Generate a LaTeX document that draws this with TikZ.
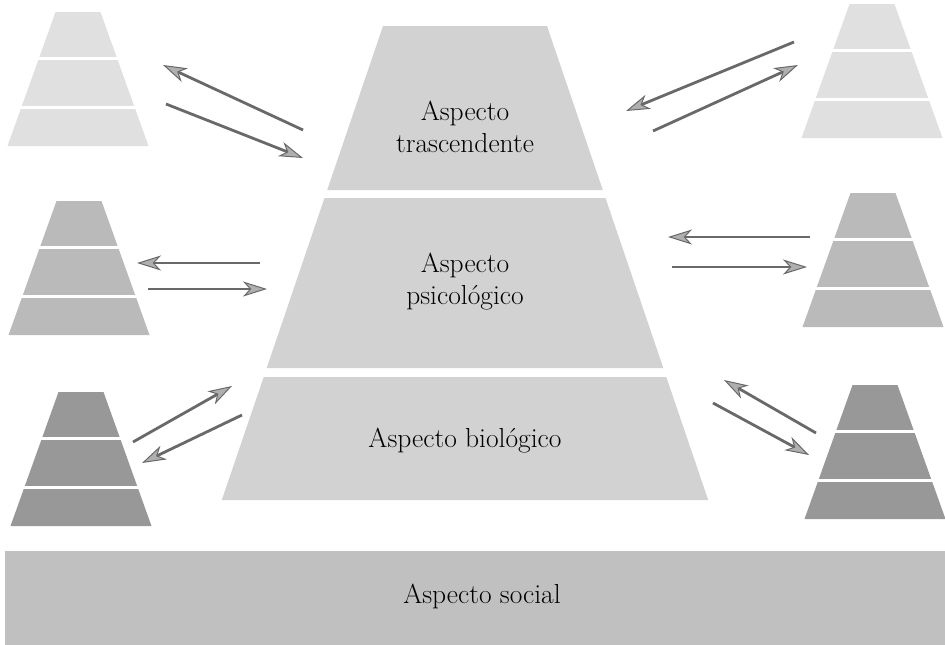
\documentclass[tikz,border=0pt]{standalone}
\usepackage{tikz}
\usetikzlibrary{arrows.meta,positioning}
\definecolor{tiergray}{RGB}{210,210,210}
\definecolor{socialgray}{RGB}{192,192,192}
\definecolor{palegray}{RGB}{224,224,224}
\definecolor{midgray}{RGB}{186,186,186}
\definecolor{deepgray}{RGB}{152,152,152}
\definecolor{arrowgray}{RGB}{105,105,105}
\definecolor{headgray}{RGB}{175,175,175}

\begin{document}
\begin{tikzpicture}[x=1pt, y=-1pt, >={Stealth[length=24pt,width=15pt,inset=7pt,line width=1pt,fill=headgray]},
  tier/.style={fill=tiergray},
  tiertext/.style={font={\fontsize{27.5}{32}\selectfont}, align=center, inner sep=0pt},
  link/.style={->, draw=arrowgray, line width=2.8pt},
  divider/.style={draw=white, line width=3pt}]
        \useasboundingbox (0,0) rectangle (945,645);

        % central pyramid
        \fill[tier] (383,26) -- (547,26) -- (602.8,190) -- (327.2,190) -- cycle;
        \fill[tier] (324.5,198) -- (605.5,198) -- (663.3,368) -- (266.7,368) -- cycle;
        \fill[tier] (263.7,377) -- (666.3,377) -- (708.2,500) -- (221.8,500) -- cycle;
        \fill[socialgray] (5,551) rectangle (945,645);

        \node[tiertext] (trasc)  at (465,127) {Aspecto\\trascendente};
        \node[tiertext] (psico)  at (465,282) {Aspecto\\psicológico};
        \node[tiertext] (bio)    at (465,441) {Aspecto biológico};
        \node[tiertext] (social) at (482,596) {Aspecto social};

        % small pyramids
        \foreach \cx/\ty/\tone in {78/12/palegray, 872/4/palegray, 79/201/midgray,
                                   873/193/midgray, 81/392/deepgray, 875/385/deepgray}{
            \fill[\tone] (\cx-22.5,\ty) -- (\cx+22.5,\ty) -- (\cx+70.5,\ty+134) -- (\cx-70.5,\ty+134) -- cycle;
            \draw[divider] (\cx-41,\ty+46) -- (\cx+41,\ty+46) (\cx-58,\ty+95) -- (\cx+58,\ty+95);
        }

        \coordinate (tl_1) at (303,130); \coordinate (tl_2) at (163,65);
        \coordinate (tl_3) at (166,104); \coordinate (tl_4) at (303,158);
        \coordinate (tr_1) at (794,42);  \coordinate (tr_2) at (626,111);
        \coordinate (tr_3) at (653,131); \coordinate (tr_4) at (798,65);
        \coordinate (ml_1) at (260,263); \coordinate (ml_2) at (137,263);
        \coordinate (ml_3) at (148,289); \coordinate (ml_4) at (267,289);
        \coordinate (mr_1) at (810,237); \coordinate (mr_2) at (668,237);
        \coordinate (mr_3) at (672,267); \coordinate (mr_4) at (807,267);
        \coordinate (bl_1) at (133,442); \coordinate (bl_2) at (232,386);
        \coordinate (bl_3) at (242,415); \coordinate (bl_4) at (142,463);
        \coordinate (br_1) at (816,433); \coordinate (br_2) at (724,380);
        \coordinate (br_3) at (713,403); \coordinate (br_4) at (809,455);

        \path (tl_1) edge[link] (tl_2)
              (tl_3) edge[link] (tl_4)
              (tr_1) edge[link] (tr_2)
              (tr_3) edge[link] (tr_4)
              (ml_1) edge[link] (ml_2)
              (ml_3) edge[link] (ml_4)
              (mr_1) edge[link] (mr_2)
              (mr_3) edge[link] (mr_4)
              (bl_1) edge[link] (bl_2)
              (bl_3) edge[link] (bl_4)
              (br_1) edge[link] (br_2)
              (br_3) edge[link] (br_4);
\end{tikzpicture}
\end{document}
